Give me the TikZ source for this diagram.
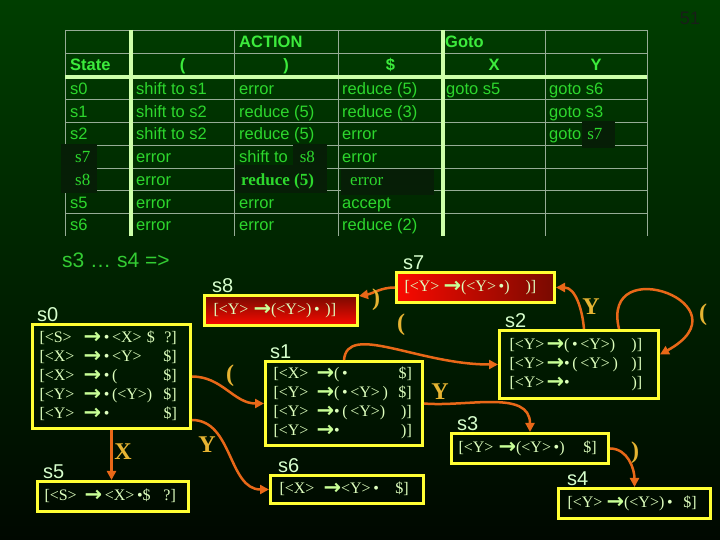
\documentclass[tikz,border=0pt]{standalone}
\usepackage{fontspec}
\setmainfont{Liberation Serif}
\newfontfamily\tabfont{Liberation Sans}
\newfontfamily\arrfont{DejaVu Sans}
\usetikzlibrary{arrows.meta}
\setlength{\parindent}{0pt}
\definecolor{bgtop}{RGB}{0,62,0}
\definecolor{bgbot}{RGB}{0,8,0}
\definecolor{tgreen}{RGB}{45,215,45}
\definecolor{thead}{RGB}{60,235,60}
\definecolor{gridgray}{RGB}{150,172,150}
\definecolor{palegreen}{RGB}{205,255,170}
\definecolor{patchdark}{RGB}{6,30,6}
\definecolor{boxyellow}{RGB}{255,255,51}
\definecolor{itemtext}{RGB}{222,255,190}
\definecolor{arrowgreen}{RGB}{200,255,150}
\definecolor{edgeorange}{RGB}{232,104,24}
\definecolor{symgold}{RGB}{230,180,50}
\definecolor{lblwhite}{RGB}{215,255,205}
\definecolor{hintgreen}{RGB}{51,204,51}
\definecolor{redtop}{RGB}{120,10,0}
\definecolor{redbot}{RGB}{250,10,0}
\definecolor{pagegray}{RGB}{25,30,25}

\newcommand\goesto{\leavevmode{\arrfont\bfseries\fontsize{21}{19}\selectfont\color{arrowgreen}\raisebox{-1pt}{→}}}
\newcommand\tsf[1]{{\rmfamily\fontsize{17}{17}\selectfont #1}}

\tikzset{
  cell/.style={anchor=base west, inner sep=0pt, text=tgreen, font=\tabfont\fontsize{16.5}{18}\selectfont},
  head/.style={cell, text=thead, font=\tabfont\bfseries\fontsize{16.5}{18}\selectfont},
  gridline/.style={draw=gridgray, line width=0.8pt},
  thickrule/.style={draw=palegreen, line width=4pt},
  statebox/.style={draw=boxyellow, line width=3pt, anchor=north west, inner ysep=0pt, align=left, text=itemtext, font=\fontsize{16}{19}\selectfont},
  statelbl/.style={anchor=south west, inner sep=0pt, text=lblwhite, font=\tabfont\fontsize{20}{20}\selectfont},
  trans/.style={draw=edgeorange, line width=2.5pt, -{Triangle[length=9pt,width=9pt]}},
  sym/.style={text=symgold, inner sep=0pt, font=\bfseries\fontsize{24}{24}\selectfont},
}

\begin{document}
\begin{tikzpicture}[x=1pt,y=1pt]

\shade[top color=bgtop, bottom color=bgbot] (0,0) rectangle (720,540);
\useasboundingbox (0,0) rectangle (720,540);
\node[text=pagegray, inner sep=0pt, font=\tabfont\fontsize{18}{18}\selectfont] (pageno) at (690,522) {51};

% parse table
\draw[gridline] (65,510) -- (647,510) (65,486.5) -- (647,486.5)
  (65,440.25) -- (647,440.25) (65,417.5) -- (647,417.5) (65,394.75) -- (647,394.75)
  (65,372) -- (647,372) (65,349.25) -- (647,349.25) (65,326.5) -- (647,326.5);
\draw[gridline] (65,510) -- (65,303.75) (234,510) -- (234,303.75) (338,510) -- (338,303.75)
  (545,510) -- (545,303.75) (647,510) -- (647,303.75);
\draw[thickrule] (131,510) -- (131,303.75) (443,510) -- (443,303.75) (65,463) -- (647,463);

\fill[patchdark] (61,396) rectangle (97,347);
\fill[patchdark] (293,396) rectangle (327,373);
\fill[patchdark] (235,375) rectangle (327,347);
\fill[patchdark] (341,371) rectangle (434,345);
\fill[patchdark] (582,419) rectangle (615,392);

\node[head] (hAction) at (239,492) {ACTION};
\node[head] (hGoto) at (445,492) {Goto};
\node[head] (hState) at (70,469) {State};
\node[head,anchor=base] (hLp) at (182.5,469) {(};
\node[head,anchor=base] (hRp) at (286,469) {)};
\node[head,anchor=base] (hDol) at (390.5,469) {\$};
\node[head,anchor=base] (hX) at (494,469) {X};
\node[head,anchor=base] (hY) at (596,469) {Y};

\node[cell] (st0) at (70,445.6) {s0};
\node[cell] (lp0) at (136,445.6) {shift to s1};
\node[cell] (rp0) at (239,445.6) {error};
\node[cell] (dl0) at (342,445.6) {reduce (5)};
\node[cell] (gx0) at (446,445.6) {goto s5};
\node[cell] (gy0) at (549,445.6) {goto s6};

\node[cell] (st1) at (70,422.9) {s1};
\node[cell] (lp1) at (136,422.9) {shift to s2};
\node[cell] (rp1) at (239,422.9) {reduce (5)};
\node[cell] (dl1) at (342,422.9) {reduce (3)};
\node[cell] (gy1) at (549,422.9) {goto s3};

\node[cell] (st2) at (70,400.1) {s2};
\node[cell] (lp2) at (136,400.1) {shift to s2};
\node[cell] (rp2) at (239,400.1) {reduce (5)};
\node[cell] (dl2) at (342,400.1) {error};
\node[cell] (gy2) at (549,400.1) {goto\hspace{6pt}\tsf{s7}};

\node[cell] (st3) at (75,377.4) {\tsf{s7}};
\node[cell] (lp3) at (136,377.4) {error};
\node[cell] (rp3) at (239,377.4) {shift to\hspace{12pt}\tsf{s8}};
\node[cell] (dl3) at (342,377.4) {error};

\node[cell] (st4) at (75,354.6) {\tsf{s8}};
\node[cell] (lp4) at (136,354.6) {error};
\node[cell] (rp4) at (241,354.6) {\tsf{\bfseries reduce (5)}};
\node[cell] (dl4) at (350,354.6) {\tsf{error}};

\node[cell] (st5) at (70,331.9) {s5};
\node[cell] (lp5) at (136,331.9) {error};
\node[cell] (rp5) at (239,331.9) {error};
\node[cell] (dl5) at (342,331.9) {accept};

\node[cell] (st6) at (70,309.1) {s6};
\node[cell] (lp6) at (136,309.1) {error};
\node[cell] (rp6) at (239,309.1) {error};
\node[cell] (dl6) at (342,309.1) {reduce (2)};

\node[anchor=west, inner sep=0pt, text=hintgreen, font=\tabfont\fontsize{21}{21}\selectfont] (hint) at (62,280) {s3 … s4 =>};

% item sets
\node[statebox, text width=144pt, inner xsep=7pt, minimum height=104pt] (s0) at (31,217) {\begin{tabular}{@{}p{44pt}@{}p{80pt}@{}r@{}}
{[}<S> & \goesto\,•\,<X> \$ & ?]\\
{[}<X> & \goesto\,•\,<Y> & \$]\\
{[}<X> & \goesto\,•\,( & \$]\\
{[}<Y> & \goesto\,•\,(<Y>) & \$]\\
{[}<Y> & \goesto\,• & \$]
\end{tabular}};
\node[statebox, text width=137pt, inner xsep=7pt, minimum height=30pt] (s5) at (36,60) {\begin{tabular}{@{}p{40pt}@{}p{79pt}@{}r@{}}
{[}<S> & \goesto\,<X>\,•\$ & ?]
\end{tabular}};
\node[statebox, shade, top color=redtop, bottom color=redbot, text width=135pt, inner xsep=9pt, minimum height=30pt] (s8) at (203,246) {\begin{tabular}{@{}p{40pt}@{}p{72pt}@{}r@{}}
{[}<Y> & \goesto(<Y>)\,•\, & )]
\end{tabular}};
\node[statebox, shade, left color=redbot, right color=redtop, text width=142pt, inner xsep=8pt, minimum height=30pt] (s7) at (395,269) {\begin{tabular}{@{}p{39pt}@{}p{82pt}@{}r@{}}
{[}<Y> & \goesto(<Y>\,•) & )]
\end{tabular}};
\node[statebox, text width=141pt, inner xsep=8pt, minimum height=84pt] (s1) at (264,180) {\begin{tabular}{@{}p{43pt}@{}p{82pt}@{}r@{}}
{[}<X> & \goesto(\,• & \$]\\
{[}<Y> & \goesto(\,•\,<Y>\,) & \$]\\
{[}<Y> & \goesto•\,(\,<Y>) & )]\\
{[}<Y> & \goesto• & )]
\end{tabular}};
\node[statebox, text width=135pt, inner xsep=9pt, minimum height=28pt] (s6) at (269,66) {\begin{tabular}{@{}p{44pt}@{}p{72pt}@{}r@{}}
{[}<X> & \goesto<Y>\,• & \$]
\end{tabular}};
\node[statebox, text width=139pt, inner xsep=10pt, minimum height=68pt] (s2) at (498,211) {\begin{tabular}{@{}p{37pt}@{}p{85pt}@{}r@{}}
{[}<Y> & \goesto(\,•\,<Y>) & )]\\
{[}<Y> & \goesto•\,(\,<Y>\,) & )]\\
{[}<Y> & \goesto• & )]
\end{tabular}};
\node[statebox, text width=143pt, inner xsep=7pt, minimum height=30pt] (s3) at (450,108) {\begin{tabular}{@{}p{40pt}@{}p{85pt}@{}r@{}}
{[}<Y> & \goesto(<Y>\,•) & \$]
\end{tabular}};
\node[statebox, text width=134pt, inner xsep=9pt, minimum height=30pt] (s4) at (557,53) {\begin{tabular}{@{}p{39pt}@{}p{77pt}@{}r@{}}
{[}<Y> & \goesto(<Y>)\,•\, & \$]
\end{tabular}};

\node[statelbl] (s0lbl) at ([xshift=6pt,yshift=1pt]s0.north west) {s0};
\node[statelbl] (s5lbl) at ([xshift=7pt,yshift=1pt]s5.north west) {s5};
\node[statelbl] (s8lbl) at ([xshift=9pt,yshift=1pt]s8.north west) {s8};
\node[statelbl] (s7lbl) at ([xshift=8pt,yshift=1pt]s7.north west) {s7};
\node[statelbl] (s1lbl) at ([xshift=6pt,yshift=1pt]s1.north west) {s1};
\node[statelbl] (s6lbl) at ([xshift=9pt,yshift=1pt]s6.north west) {s6};
\node[statelbl] (s2lbl) at ([xshift=7pt,yshift=1pt]s2.north west) {s2};
\node[statelbl] (s3lbl) at ([xshift=7pt,yshift=1pt]s3.north west) {s3};
\node[statelbl] (s4lbl) at ([xshift=10pt,yshift=1pt]s4.north west) {s4};

% transitions
\draw[trans] (s0.south) -- (s0.south |- s5.north);
\node[sym] (onX) at (123,88) {X};
\draw[trans] (s0.east) to[out=0,in=180] (s1.west);
\node[sym] (onLpA) at (230,164) {(};
\draw[trans] ([yshift=10pt]s0.south east) to[out=0,in=180] (s6.west);
\node[sym] (onYA) at (207,95) {Y};
\draw[trans] (s1.north) to[out=85,in=180,out distance=38pt,in distance=80pt] (s2.west);
\node[sym] (onLpB) at (401,215) {(};
\draw[trans] (s1.east) to[out=-5,in=90] (s3.north);
\node[sym] (onYB) at (440,148) {Y};
\draw[trans] ([xshift=5pt]s2.north) to[out=95,in=0] (s7.east);
\node[sym] (onYC) at (591,233) {Y};
\draw[trans] ([xshift=40pt]s2.north) .. controls (600,290) and (750,235) .. ([yshift=10pt]s2.east);
\node[sym] (onLpC) at (703,225) {(};
\draw[trans] (s7.west) to[out=180,in=10] ([yshift=-2pt]s8.north east);
\node[sym] (onRpA) at (376,240) {)};
\draw[trans] (s3.east) to[out=0,in=90] (s4.north);
\node[sym] (onRpB) at (635,87) {)};

\end{tikzpicture}
\end{document}
